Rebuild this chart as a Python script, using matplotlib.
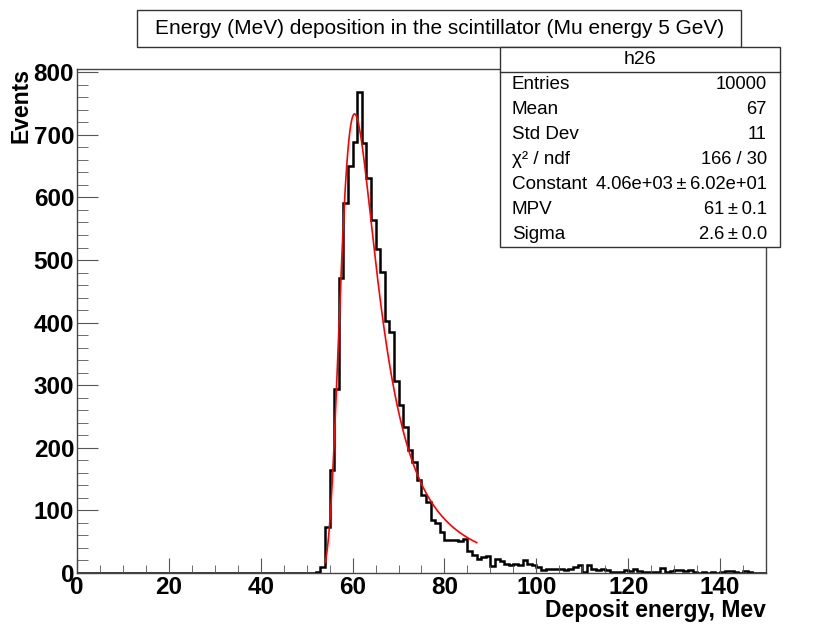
import matplotlib
matplotlib.use("Agg")
import matplotlib.pyplot as plt
from matplotlib.patches import Rectangle
from matplotlib.ticker import MultipleLocator
import numpy as np

plt.rcParams['font.family'] = ['Liberation Sans', 'DejaVu Sans']

# histogram h26: 150 bins of 1 MeV from 0 to 150 (bins below 52 are empty)
first_bin = 52
counts_read = [2, 10, 73, 164, 294, 471, 591, 650, 689, 768,      # 52-61
               687, 631, 564, 518, 481, 403, 385, 307, 269, 234,  # 62-71
               197, 178, 149, 125, 114, 85, 80, 66, 53, 52,       # 72-81
               52, 51, 54, 35, 29, 22, 25, 27, 11, 22,            # 82-91
               19, 14, 13, 14, 13, 21, 15, 12, 9, 5,              # 92-101
               7, 6, 7, 7, 5, 6, 9, 12, 2, 12,                    # 102-111
               7, 5, 6, 4, 2, 1, 2, 4, 3, 6,                      # 112-121
               3, 2, 1, 2, 2, 8, 1, 3, 4, 5,                      # 122-131
               3, 4, 2, 0, 1, 0, 1, 0, 2, 3,                      # 132-141
               3, 1, 0, 3, 1, 0, 0, 0]                            # 142-149
edges = np.arange(0, 151, 1)
counts = np.zeros(150)
counts[first_bin:first_bin + len(counts_read)] = counts_read

# Landau fit parameters from the stats box
fit_const = 4.06e3
fit_mpv = 61.0
fit_sigma = 2.6
fit_range = (54.0, 87.0)

stats_labels = ['Entries', 'Mean', 'Std Dev', 'χ² / ndf', 'Constant', 'MPV', 'Sigma']
stats_values = ['10000', '67', '11', '166 / 30', '4.06e+03\u2009±\u20096.02e+01',
                '61\u2009±\u20090.1', '2.6\u2009±\u20090.0']


def landau_density(lam):
    # p(lambda) = 1/pi * int_0^inf exp(-t ln t - lambda t) sin(pi t) dt
    t = np.linspace(1e-9, 30, 30001)
    out = []
    for l in lam:
        f = np.exp(-t * np.log(t) - l * t) * np.sin(np.pi * t)
        out.append(np.trapezoid(f, t) / np.pi)
    return np.array(out)


W, H = 829, 625
fig = plt.figure(figsize=(W / 100, H / 100), dpi=100)


def fx(x):
    return x / W


def fy(y):
    return 1 - y / H


ax = fig.add_axes([fx(77), fy(573), fx(766) - fx(77), fy(68.5) - fy(573)])
ax.stairs(counts, edges, color='black', lw=1.8)

xf = np.linspace(fit_range[0], fit_range[1], 300)
yf = fit_const * landau_density((xf - fit_mpv) / fit_sigma)
ax.plot(xf, yf, color='red', lw=1.2)

ax.set_xlim(0, 150)
ax.set_ylim(0, 806)
ax.xaxis.set_major_locator(MultipleLocator(20))
ax.xaxis.set_minor_locator(MultipleLocator(5))
ax.yaxis.set_major_locator(MultipleLocator(100))
ax.yaxis.set_minor_locator(MultipleLocator(20))
ax.tick_params(which='both', direction='in', top=False, right=False, color='#555555')
ax.tick_params(axis='x', which='major', length=11, pad=2)
ax.tick_params(axis='x', which='minor', length=6)
ax.tick_params(axis='y', which='major', length=15, pad=2)
ax.tick_params(axis='y', which='minor', length=8)
for lab in ax.get_xticklabels() + ax.get_yticklabels():
    lab.set_fontweight('bold')
    lab.set_fontsize(17.5)
for sp in ax.spines.values():
    sp.set_color('#444444')
    sp.set_linewidth(1.0)

fig.text(fx(21), fy(68), 'Events', rotation=90, ha='center', va='top',
         fontsize=16.5, fontweight='bold')
fig.text(fx(766), fy(611), 'Deposit energy, Mev', ha='right', va='center',
         fontsize=16.5, fontweight='bold')

# title box
fig.patches.append(Rectangle((fx(137), fy(47)), fx(741) - fx(137), fy(10) - fy(47),
                             transform=fig.transFigure, facecolor='white',
                             edgecolor='#333333', lw=1.0))
fig.text(fx(440), fy(29), 'Energy (MeV) deposition in the scintillator (Mu energy 5 GeV)',
         ha='center', va='center', fontsize=15)

# stats box
top, bot, left, right = 47, 247, 500, 780
fig.patches.append(Rectangle((fx(left), fy(bot)), fx(right) - fx(left), fy(top) - fy(bot),
                             transform=fig.transFigure, facecolor='white',
                             edgecolor='#333333', lw=1.0, zorder=5))
row_h = (bot - top) / 8
fig.add_artist(plt.Line2D([fx(left), fx(right)], [fy(top + row_h), fy(top + row_h)],
                          color='#333333', lw=1.0, zorder=6))
fig.text(fx((left + right) / 2), fy(top + row_h / 2), 'h26', ha='center', va='center',
         fontsize=14, zorder=7)
for i, (lab, val) in enumerate(zip(stats_labels, stats_values)):
    yc = fy(top + row_h * (i + 1.5))
    fig.text(fx(512), yc, lab, ha='left', va='center', fontsize=13.6, zorder=7)
    fig.text(fx(767), yc, val, ha='right', va='center', fontsize=13.2, zorder=7)

fig.savefig('out.png', dpi=100)
